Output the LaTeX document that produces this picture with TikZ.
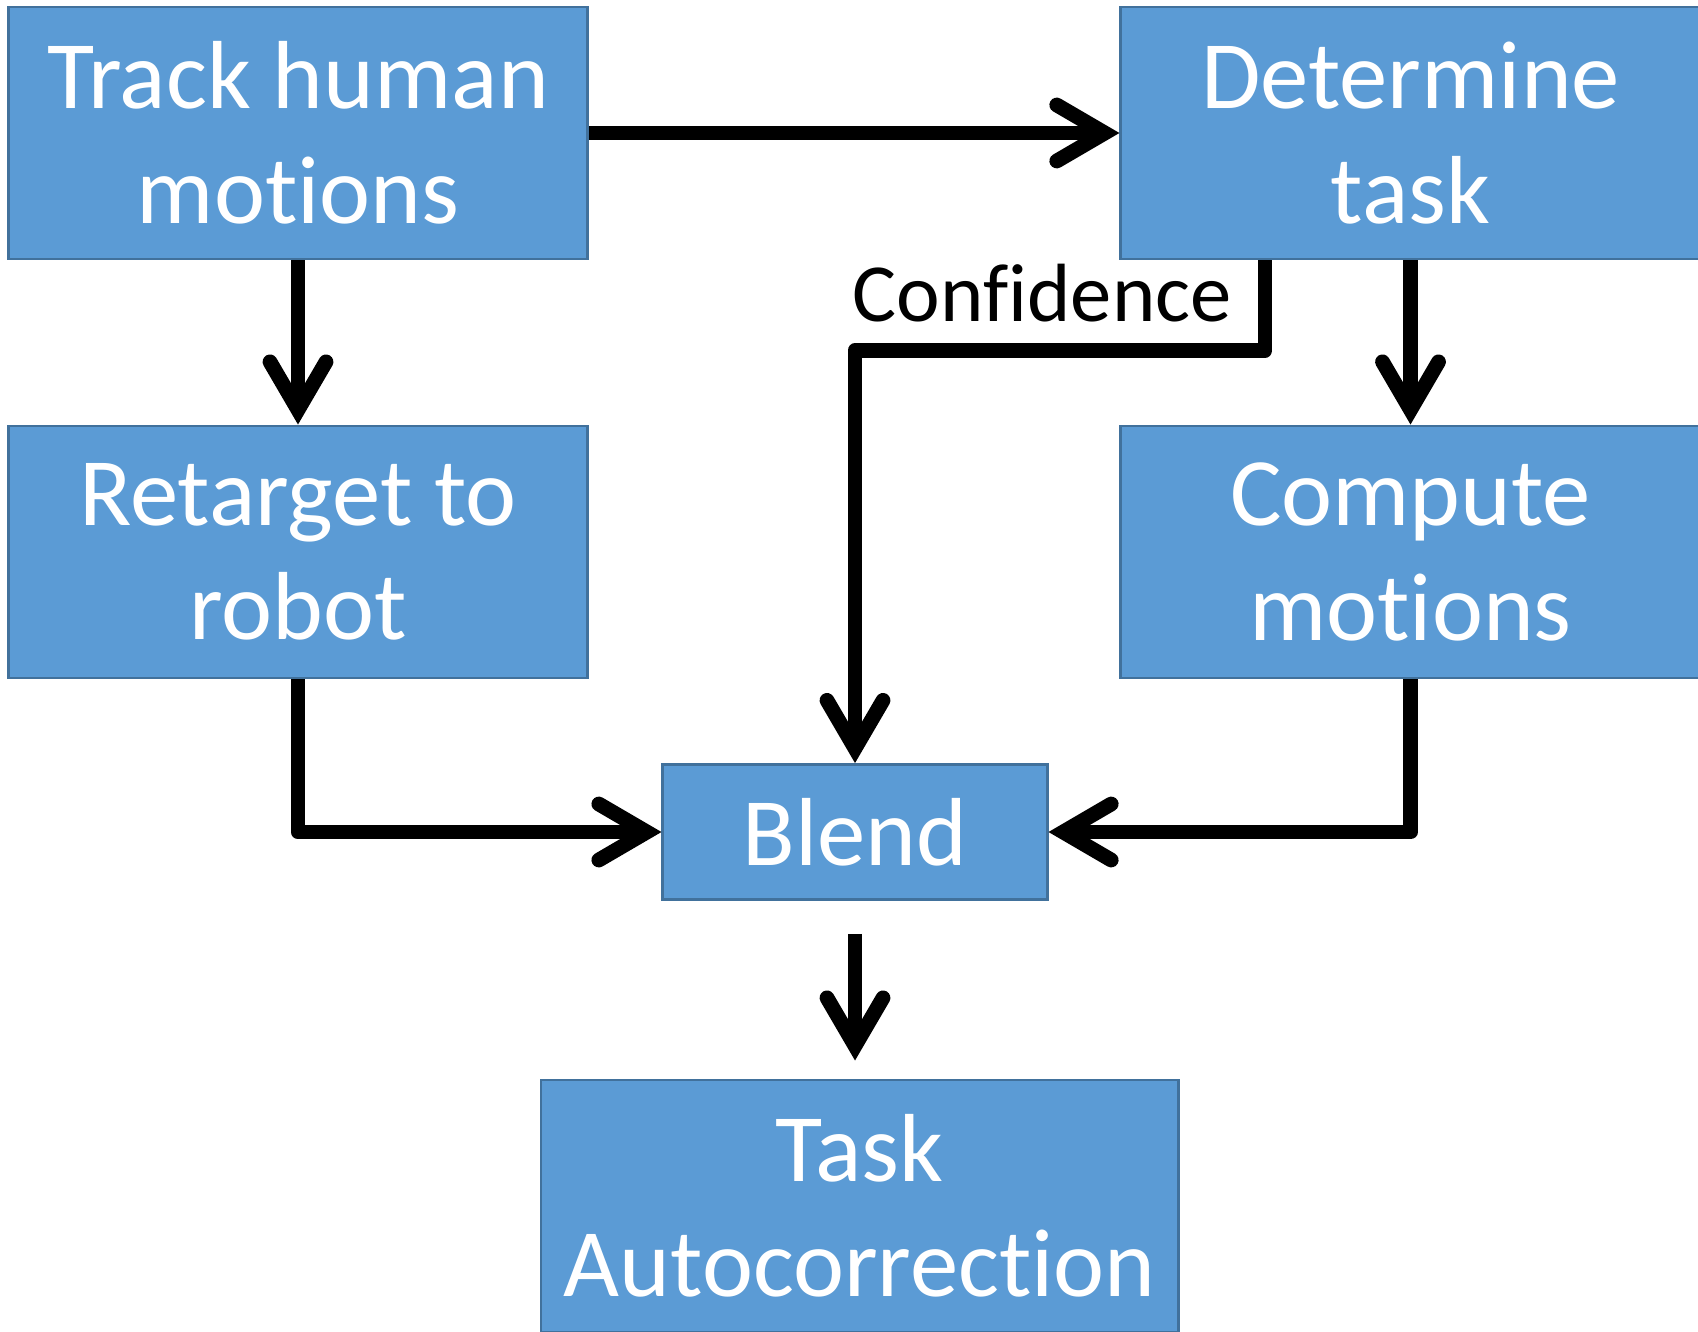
\documentclass[tikz,border=0pt]{standalone}
\usepackage{fontspec}
\setmainfont{Carlito}[Ligatures=NoCommon]
\usetikzlibrary{arrows.meta}
\definecolor{boxblue}{HTML}{5B9BD5}
\definecolor{boxline}{HTML}{41719C}
\begin{document}
\begin{tikzpicture}[x=0.01cm, y=-0.01cm, >={Straight Barb[length=0.48cm,width=0.56cm,line cap=round]}, line width=4.2pt,
  stepbox/.style={draw=boxline, line width=0.8pt, fill=boxblue, text=white, align=center,
    font=\fontsize{27.5}{32.6}\selectfont, minimum width=5.79cm, minimum height=2.52cm, inner sep=0pt}]
\useasboundingbox (0,0) rectangle (1698,1331);
\node[stepbox] (track) at (298,133){Track human\\motions};
\node[stepbox] (determine) at (1410.5,133){Determine\\task};
\node[stepbox] (retarget) at (298,552){Retarget to\\robot};
\node[stepbox] (compute) at (1410.5,552){Compute\\motions};
\node[stepbox, minimum width=3.84cm, minimum height=1.35cm] (blend) at (855,832){Blend};
\node[stepbox, minimum width=6.37cm] (task) at (859.75,1206){Task\\Autocorrection};
\node[anchor=base east, inner sep=0pt, font=\fontsize{23.5}{28}\selectfont] (conf) at (1239,322){Confidence};
\draw[->] (track)--(determine);
\draw[->] (track)--(retarget);
\draw[->] (determine)--(compute);
\draw[->, line join=round] (retarget.south)|-(blend);
\draw[->, line join=round] (compute.south)|-(blend);
\draw[->, line join=round] ([xshift=-1.455cm]determine.south)--++(0,90)-|(blend);
\draw[->] ([yshift=-0.33cm]blend.south)--([yshift=0.18cm]task.north -| blend.south);
\end{tikzpicture}
\end{document}
